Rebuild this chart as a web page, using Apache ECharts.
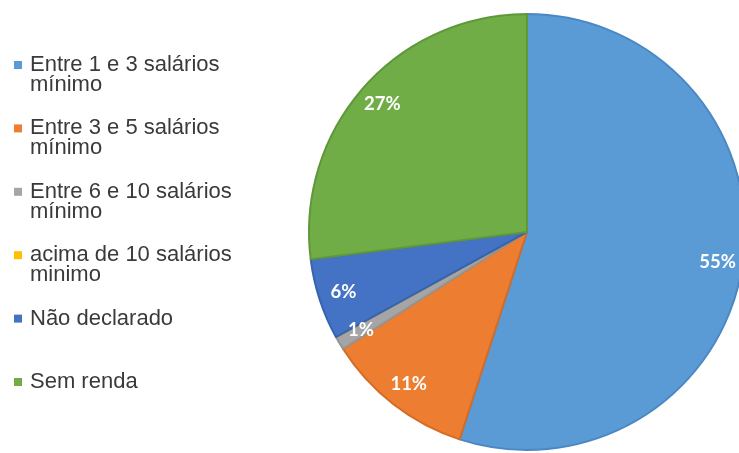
<!DOCTYPE html>
<html>
<head>
<meta charset="utf-8">
<script src="https://cdn.jsdelivr.net/npm/echarts@6/dist/echarts.min.js"></script>
<style>
  html, body { margin: 0; padding: 0; background: #ffffff; }
  #chart { width: 739px; height: 453px; }
</style>
</head>
<body>
<div id="chart"></div>
<script>
// Faixas de renda (em salários mínimos) e a participação de cada uma, em %
const categories = [
  'Entre 1 e 3 salários mínimo',
  'Entre 3 e 5 salários mínimo',
  'Entre 6 e 10 salários mínimo',
  'acima de 10 salários minimo',
  'Não declarado',
  'Sem renda'
];
const legendLines = [
  ['Entre 1 e 3 salários', 'mínimo'],
  ['Entre 3 e 5 salários', 'mínimo'],
  ['Entre 6 e 10 salários', 'mínimo'],
  ['acima de 10 salários', 'minimo'],
  ['Não declarado', ' '],
  ['Sem renda', ' ']
];
const values = [55, 11, 1, 0, 6, 27];

const fills   = ['#5B9BD5', '#ED7D31', '#A5A5A5', '#FFC000', '#4472C4', '#70AD47'];
const borders = ['#4A88C4', '#D56C24', '#949494', '#E0A800', '#3863B0', '#5F983A'];

const center = [527, 232];
const R = 218;

const chart = echarts.init(document.getElementById('chart'), null, { renderer: 'canvas' });

const slices = categories.map((name, i) => ({
  name,
  value: values[i],
  itemStyle: { color: fills[i], borderColor: borders[i], borderWidth: 2 }
}));

// transparent ring whose middle radius sets where the percentage labels sit
const labelRing = categories.map((name, i) => ({
  name,
  value: values[i],
  itemStyle: { color: 'rgba(0,0,0,0)', borderWidth: 0 },
  label: { show: values[i] > 0 }
}));

chart.setOption({
  animation: false,
  backgroundColor: '#ffffff',
  legend: {
    orient: 'vertical',
    left: 14,
    top: 34,
    padding: 0,
    itemGap: 1.4,
    itemWidth: 8,
    itemHeight: 8,
    icon: 'rect',
    selectedMode: false,
    data: categories.map((name, i) => ({ name, itemStyle: { color: fills[i], borderWidth: 0 } })),
    // each entry is three lines tall (blank, first line, second line) so the
    // icon lines up with the first line and all entries share one pitch
    formatter: (name) => {
      const lines = legendLines[categories.indexOf(name)];
      return ' \n' + lines[0] + '\n' + lines[1];
    },
    textStyle: {
      fontFamily: 'Liberation Sans, Arial, sans-serif',
      fontSize: 22,
      lineHeight: 20,
      color: '#3a3a3a',
      padding: [0, 0, 0, 3]
    }
  },
  series: [
    {
      type: 'pie',
      center,
      radius: [0, R],
      startAngle: 90,
      clockwise: true,
      silent: true,
      label: { show: false },
      labelLine: { show: false },
      data: slices
    },
    {
      type: 'pie',
      center,
      radius: [162, R],
      startAngle: 90,
      clockwise: true,
      silent: true,
      z: 3,
      label: {
        show: true,
        position: 'inside',
        formatter: (p) => p.value + '%',
        color: '#ffffff',
        fontFamily: 'Lato, Open Sans, sans-serif',
        fontWeight: 'bold',
        fontSize: 18.5
      },
      labelLine: { show: false },
      data: labelRing
    }
  ]
});
</script>
</body>
</html>
